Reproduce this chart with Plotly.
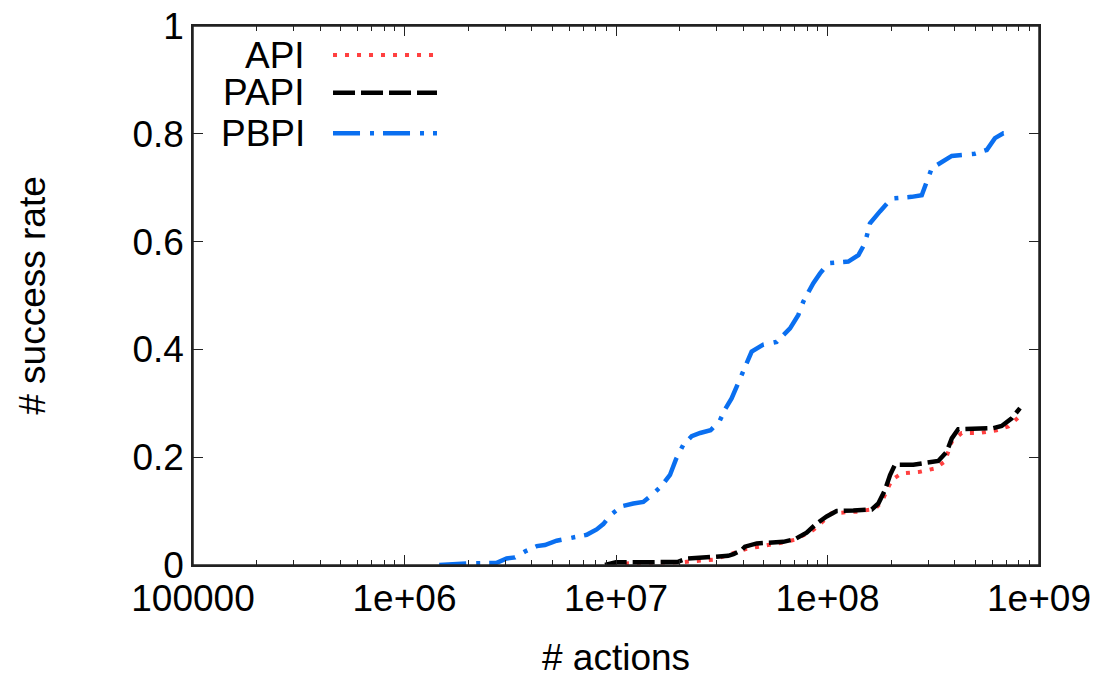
import plotly.graph_objects as go

# ---------------- data ----------------
api_x = [9.68e6, 1.125e7, 2.01e7, 2.88e7, 3.46e7, 4.15e7, 6.18e7, 7.02e7, 8.57e7,
         1.047e8, 1.374e8, 1.678e8, 1.804e8, 2.013e8, 2.244e8, 2.736e8, 3.22e8,
         3.59e8, 3.87e8, 4.31e8, 5.26e8, 6.31e8, 7.16e8, 7.71e8, 8.37e8]
api_y = [0.0, 0.003, 0.005, 0.010, 0.020, 0.030, 0.042, 0.047, 0.065,
         0.096, 0.099, 0.104, 0.117, 0.158, 0.170, 0.173, 0.179,
         0.192, 0.229, 0.245, 0.245, 0.250, 0.257, 0.269, 0.281]

papi_x = [8.87e6, 1.0e7, 1.449e7, 1.964e7, 2.17e7, 2.72e7, 3.0e7, 3.39e7, 3.59e7,
          3.94e7, 4.07e7, 4.63e7, 6.18e7, 7.02e7, 7.97e7, 8.89e7, 9.91e7,
          1.105e8, 1.324e8, 1.618e8, 1.739e8, 1.87e8, 1.976e8, 2.085e8, 2.545e8,
          2.89e8, 3.34e8, 3.66e8, 3.87e8, 4.15e8, 4.89e8, 6.08e8, 6.66e8, 7.43e8, 8.13e8]
papi_y = [0.0, 0.005, 0.005, 0.006, 0.012, 0.014, 0.016, 0.017, 0.020,
          0.028, 0.034, 0.040, 0.043, 0.048, 0.060, 0.077, 0.090,
          0.100, 0.101, 0.103, 0.114, 0.139, 0.167, 0.186, 0.186,
          0.189, 0.193, 0.210, 0.235, 0.252, 0.252, 0.254, 0.258, 0.272, 0.291]

pbpi_x = [1.46e6, 1.97e6, 2.73e6, 3.04e6, 3.33e6, 3.71e6, 4.22e6, 4.61e6, 5.24e6,
          5.85e6, 7.27e6, 8.10e6, 8.71e6, 9.44e6, 1.064e7, 1.208e7, 1.346e7, 1.50e7,
          1.644e7, 1.80e7, 1.92e7, 2.08e7, 2.28e7, 2.50e7, 2.80e7, 3.08e7, 3.27e7,
          3.52e7, 3.79e7, 4.00e7, 4.38e7, 4.97e7, 5.75e7, 6.65e7, 7.28e7, 7.69e7,
          8.57e7, 9.22e7, 1.009e8, 1.254e8, 1.40e8, 1.504e8, 1.588e8, 1.77e8, 2.01e8,
          2.50e8, 2.79e8, 3.11e8, 3.47e8, 3.87e8, 4.98e8, 5.66e8, 6.19e8, 6.78e8, 7.55e8]
pbpi_y = [0.0, 0.003, 0.004, 0.012, 0.014, 0.025, 0.035, 0.037, 0.045,
          0.048, 0.056, 0.066, 0.076, 0.093, 0.109, 0.114, 0.117, 0.132,
          0.147, 0.167, 0.196, 0.223, 0.239, 0.245, 0.250, 0.266, 0.288,
          0.309, 0.337, 0.362, 0.396, 0.409, 0.414, 0.439, 0.464, 0.489,
          0.523, 0.541, 0.560, 0.563, 0.575, 0.597, 0.634, 0.656, 0.680,
          0.683, 0.686, 0.736, 0.748, 0.759, 0.763, 0.770, 0.792, 0.801, 0.801]

series_names = ["API", "PAPI", "PBPI"]
x_tickvals = [1e5, 1e6, 1e7, 1e8, 1e9]
x_ticktext = ["100000", "1e+06", "1e+07", "1e+08", "1e+09"]
y_tickvals = [0, 0.2, 0.4, 0.6, 0.8, 1]
y_ticktext = ["0", "0.2", "0.4", "0.6", "0.8", "1"]
x_title = "# actions"
y_title = "# success rate"

# ---------------- styles ----------------
RED = "#ff4040"
BLACK = "#000000"
BLUE = "#0a6ff0"
styles = {
    "API": dict(color=RED, width=4, dash="4px,8px"),
    "PAPI": dict(color=BLACK, width=4.5, dash="22px,6px"),
    "PBPI": dict(color=BLUE, width=4.5, dash="27px,10px,4px,9px"),
}
FONT = "Liberation Sans, Arial, sans-serif"
FS = 37

fig = go.Figure()
for name, xs, ys in [("API", api_x, api_y), ("PAPI", papi_x, papi_y), ("PBPI", pbpi_x, pbpi_y)]:
    fig.add_trace(go.Scatter(x=xs, y=ys, mode="lines", name=name,
                             line=styles[name], showlegend=False))

# gnuplot-style key: text on the left, line sample on the right
key_rows_y = [0.946, 0.876, 0.801]
for name, yk in zip(series_names, key_rows_y):
    fig.add_annotation(xref="paper", yref="paper", x=0.1348, y=yk, text=name,
                       showarrow=False, xanchor="right", yanchor="middle",
                       font=dict(family=FONT, size=FS, color="black"))
    fig.add_shape(type="line", xref="paper", yref="paper", x0=0.1655, x1=0.2884,
                  y0=yk, y1=yk, line=styles[name])

# x-axis title placed as an annotation below the tick labels
fig.add_annotation(xref="paper", yref="paper", x=0.5, y=-0.172, text=x_title,
                   showarrow=False, xanchor="center", yanchor="middle",
                   font=dict(family=FONT, size=FS, color="black"))

# plot frame (gnuplot border)
fig.add_shape(type="rect", xref="paper", yref="paper", x0=0, x1=1, y0=0, y1=1,
              line=dict(color="#222222", width=1.5), layer="above")

axis_common = dict(showline=True, linecolor="#222222", linewidth=1.5, mirror="ticks",
                   ticks="inside", tickcolor="#222222", tickwidth=1.2, ticklen=10,
                   showgrid=False, zeroline=False, automargin=False,
                   ticklabeloverflow="allow",
                   tickfont=dict(family=FONT, size=FS, color="black"))

minor_ticks = dict(ticks="inside", ticklen=5, tickcolor="#222222", tickwidth=1.2,
                   dtick="D1", showgrid=False)

fig.update_xaxes(type="log", range=[5, 9], tickvals=x_tickvals, ticktext=x_ticktext,
                 minor=minor_ticks, **axis_common)
fig.update_yaxes(range=[0, 1], tickvals=y_tickvals, ticktext=y_ticktext,
                 title=dict(text=y_title, font=dict(family=FONT, size=FS, color="black"),
                            standoff=75),
                 **axis_common)

# the page body adds an 8px margin, so the figure is sized/offset to compensate
fig.update_layout(width=1106, height=669, plot_bgcolor="white", paper_bgcolor="white",
                  margin=dict(l=185, r=75, t=18, b=112, autoexpand=False), showlegend=False,
                  font=dict(family=FONT, size=FS, color="black"),
                  # top border ticks (gnuplot mirrors the x tics on the top border)
                  xaxis2=dict(type="log", range=[5, 9], overlaying="x", side="top",
                              anchor="y", tickvals=x_tickvals, showticklabels=False,
                              ticks="inside", ticklen=10, tickcolor="#222222", tickwidth=1.2,
                              minor=minor_ticks, showgrid=False, zeroline=False,
                              showline=False, automargin=False))

fig.write_html("out.html")
